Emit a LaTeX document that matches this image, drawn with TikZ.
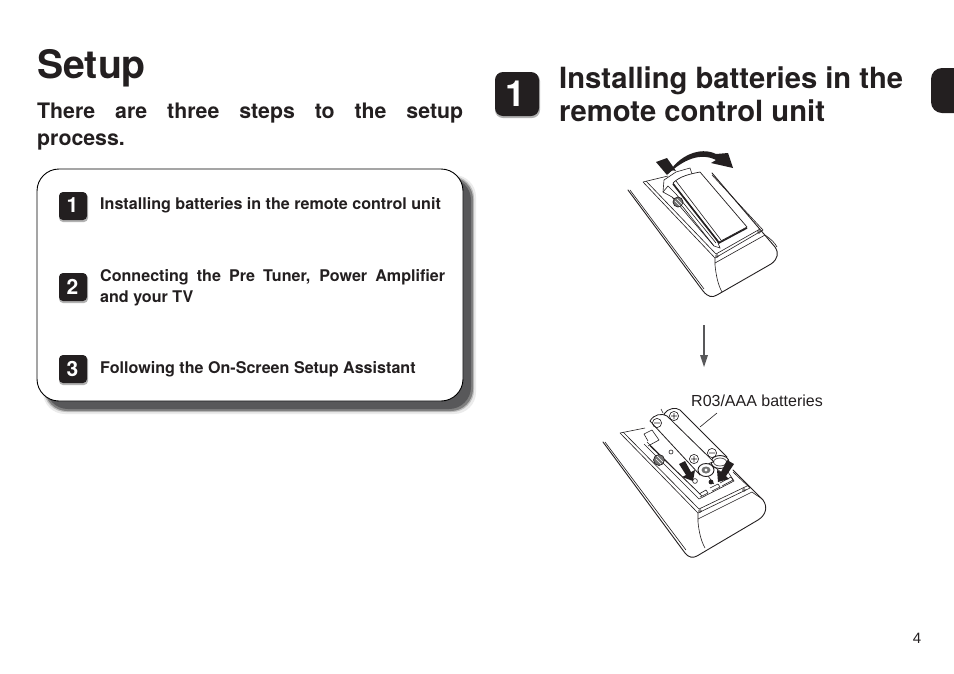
\documentclass[tikz,border=0pt]{standalone}
\usepackage{fontspec}
\setmainfont{TeX Gyre Heros}
\newfontfamily\labelfont{Liberation Sans}
\definecolor{inkblack}{HTML}{231F20}
\definecolor{shadowgrey}{HTML}{58585A}
\tikzset{
  badge/.style={fill=inkblack, rounded corners=4pt},
  badgeshadow/.style={fill=black!30, rounded corners=4pt},
  badgenum/.style={text=white, font=\bfseries\fontsize{21}{21}\selectfont, inner sep=0pt},
  steptext/.style={anchor=north west, inner sep=0pt, text=inkblack, text width=345pt, align=justify,
    font=\bfseries\fontsize{16.1}{21}\selectfont},
  outline/.style={line width=0.9pt, line join=round, line cap=round, draw=inkblack},
  thinline/.style={line width=0.6pt, line join=round, draw=inkblack},
  coil/.style={draw=inkblack, line width=0.7pt, fill=black!55},
}
\begin{document}
\begin{tikzpicture}[x=1pt,y=-1pt]
\useasboundingbox (0,0) rectangle (954,673);
\fill[white] (0,0) rectangle (954,673);
% headings
\node[anchor=base west, inner sep=0pt, text=inkblack, font=\bfseries\fontsize{39.2}{39}\selectfont] (title) at (37,78) {Setup};
\node[anchor=north west, inner sep=0pt, text=inkblack, text width=426pt, align=justify,
  font=\bfseries\fontsize{21.3}{27}\selectfont] (intro) at (37,103) {There are three steps to the setup\linebreak process.};
% box
\fill[black!8, rounded corners=22pt] (43,175) rectangle (476,414);
\fill[black!25, rounded corners=22pt] (44,176) rectangle (474,412);
\fill[black!50, rounded corners=22pt] (45,177) rectangle (473,411);
\fill[shadowgrey, rounded corners=22pt] (46,178) rectangle (471,409);
\draw[fill=white, draw=black, line width=0.9pt, rounded corners=22pt] (37,169) rectangle (463,401);
\fill[badgeshadow] (59,193) rectangle (88,222);
\fill[badge] (59,192) rectangle (87,220);
\node[badgenum] (numa) at (72.5,205) {1};
\node[steptext] (stepa) at (100,197) {Installing batteries in the remote control unit};
\fill[badgeshadow] (59,274) rectangle (88,303);
\fill[badge] (59,273) rectangle (87,301);
\node[badgenum] (numb) at (72.5,287) {2};
\node[steptext] (stepb) at (100,269) {Connecting the Pre Tuner, Power Amplifier and your TV};
\fill[badgeshadow] (59,356) rectangle (88,385);
\fill[badge] (59,355) rectangle (87,383);
\node[badgenum] (numc) at (72.5,369) {3};
\node[steptext] (stepc) at (100,361) {Following the On-Screen Setup Assistant};
% right column
\fill[black!30, rounded corners=8pt] (495,73) rectangle (540,118);
\fill[inkblack, rounded corners=8pt] (495,72) rectangle (539,116);
\node[text=white, font=\bfseries\fontsize{36}{36}\selectfont, inner sep=0pt] (numbig) at (516,94) {1};
\node[anchor=base west, inner sep=0pt, text=inkblack, font=\bfseries\fontsize{29.2}{33}\selectfont] (heada) at (559,88) {Installing batteries in the};
\node[anchor=base west, inner sep=0pt, text=inkblack, font=\bfseries\fontsize{29.2}{33}\selectfont] (headb) at (559,121) {remote control unit};
\fill[inkblack] (954,68) -- (942,68) to[out=180,in=90] (931,79) -- (931,102) to[out=-90,in=180] (942,113) -- (954,113) -- cycle;
% upper remote
\draw[outline] (628,190) -- (703,291) .. controls (708,297) and (712,298) .. (717,295) -- (771,264) .. controls (778,259) and (779,253) .. (775,247) -- (712,173);
\draw[thinline] (630,190) -- (704,289);
\draw[thinline] (643,182) -- (715,258) -- (763,230) -- (712,175);
\draw[thinline] (646,181) -- (716,254) -- (760,229);
\draw[thinline] (643,182) -- (668,176);
\draw[thinline] (715,258) -- (715,265) .. controls (716,275) and (718,285) .. (722,292);
\draw[thinline] (715,263) -- (765,235) .. controls (771,239) and (775,243) .. (777,247);
\fill[white, draw=inkblack, line width=0.6pt] (664,180) -- (676,172) -- (690,168) -- (694,180) -- (720,248) -- (714,246) -- (672,197) -- (663,192) -- cycle;
\draw[thinline] (663,192) -- (668,186) -- (676,194) (672,197) -- (683,207) -- (714,246) (676,194) -- (716,243);
\draw[coil] (678,202) circle (5pt);
\draw[white, line width=0.6pt] (675,201) -- (680,206) (677,199) -- (682,204);
\draw[thinline] (717,256) circle (1.5pt) (759,232) circle (1.5pt);
\fill[white, draw=inkblack, line width=0.7pt, line join=round] (673,183) .. controls (680,176) and (690,174) .. (700,172) -- (747,227) -- (719,242) -- cycle;
\draw[line width=1.4pt, draw=inkblack] (673,184) -- (719,243) -- (747,228);
\draw[thinline] (676,181) -- (721,240);
% swoosh
\fill[inkblack] (656,162) -- (667,158) -- (676,171) .. controls (671,169) and (670,172) .. (667,175) -- cycle;
\fill[inkblack] (668,174) .. controls (678,156) and (700,146) .. (716,154) -- (728,153) -- (733,168) -- (711,163) -- (716,160) .. controls (700,152) and (683,160) .. (668,174) -- cycle;
% arrow between
\coordinate (arrowtop) at (704,325);
\coordinate (arrowend) at (704,367);
\draw[line width=1.1pt, draw=shadowgrey] (arrowtop) -- (704,357);
\fill[shadowgrey] (arrowend) -- (700,355) -- (708,355) -- cycle;
% lower remote
\draw[outline] (603,442) -- (685,553) .. controls (689,558) and (693,558) .. (697,556) -- (758,520) .. controls (766,515) and (768,507) .. (763,500) -- (733,470);
\draw[thinline] (605,442) -- (686,550);
\draw[thinline] (620,433) -- (698,513) -- (750,488) -- (733,472);
\draw[thinline] (623,432) -- (699,509) -- (747,486);
\draw[thinline] (620,433) -- (645,428);
\draw[thinline] (698,513) -- (698,522) .. controls (699,532) and (701,541) .. (705,548);
\draw[thinline] (698,519) -- (752,492) .. controls (757,496) and (762,498) .. (763,500);
\draw[thinline] (700,511) circle (1.5pt) (744,490) circle (1.5pt);
% compartment
\draw[thinline] (644,444) -- (699,499) -- (734,481) -- (728,472);
\draw[thinline] (647,442) -- (700,494) (650,446) -- (702,496);
\draw[thinline] (644,434) -- (652,430) (644,434) -- (648,441) (652,430) -- (659,440) -- (648,446);
\draw[coil] (659,460) circle (5.5pt);
\draw[white, line width=0.6pt] (656,459) -- (661,464) (657,456) -- (663,462);
\draw[thinline] (671,452) circle (2pt) (695,481) circle (2.4pt);
\fill[inkblack] (711,482) circle (2.4pt);
\draw[thinline] (700,497) -- (708,493) -- (706,490) -- (699,494) (712,491) -- (720,487) -- (718,484) -- (710,488) (722,486) -- (733,480) -- (731,477) -- (720,483);
\draw[thinline] (690,452) -- (714,484) (708,462) -- (726,476);
% batteries
\fill[white, draw=inkblack, line width=0.8pt, line join=round] (664,414) .. controls (668,408) and (676,407) .. (680,410) -- (727,457) .. controls (722,457) and (715,464) .. (713,470) -- cycle;
\draw[thinline] (663,413) -- (661,409);
\draw[thinline] (674,416) circle (4.6pt) (671,416) -- (677,416) (674,413) -- (674,419);
\draw[thinline] (712,453) circle (4.6pt) (709,453) -- (715,453);
\fill[white, draw=inkblack, line width=0.9pt] (720,462) ellipse (9pt and 6.5pt);
\fill[white, draw=inkblack, line width=0.6pt] (720,462) ellipse (6.5pt and 4pt);
\fill[white, draw=inkblack, line width=0.8pt, line join=round] (650,421) .. controls (654,414) and (662,413) .. (667,416) -- (714,462) .. controls (709,462) and (701,469) .. (700,475) -- cycle;
\draw[thinline] (657,423) circle (4.6pt) (654,423) -- (660,423);
\draw[thinline] (694,459) circle (4.6pt) (691,459) -- (697,459) (694,456) -- (694,462);
\fill[white, draw=inkblack, line width=0.9pt] (706,470) ellipse (8pt and 6.5pt);
\fill[black!55] (706,470) ellipse (4.5pt and 3.5pt);
\fill[white] (706,470) circle (1.6pt);
% insert arrows
\fill[inkblack] (679,464) -- (685,461) -- (691,472) -- (695,470) -- (693,481) -- (682,477) -- (686,475) -- cycle;
\fill[inkblack] (727,460) -- (734,464) -- (726,476) -- (729,479) -- (718,482) -- (717,470) -- (721,472) -- cycle;
% label
\node[anchor=base west, inner sep=0pt, text=inkblack, font=\labelfont\fontsize{16}{16}\selectfont] (battlabel) at (691,406) {R03/AAA batteries};
\coordinate (battend) at (700,427);
\draw[thinline] (717,413) -- (battend);
\node[anchor=base, inner sep=0pt, text=inkblack, font=\labelfont\fontsize{15}{15}\selectfont] (pagenum) at (917,643) {4};
\end{tikzpicture}
\end{document}
